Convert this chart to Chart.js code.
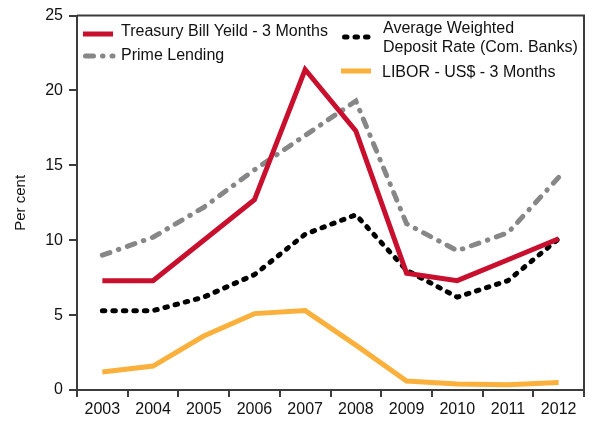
<!DOCTYPE html>
<html>
<head>
<meta charset="utf-8">
<script src="https://cdn.jsdelivr.net/npm/chart.js@4"></script>
<style>
  html, body { margin: 0; padding: 0; background: #fff; }
  #wrap { width: 594px; height: 421px; }
</style>
</head>
<body>
<div id="wrap"><canvas id="grafico" width="594" height="421"></canvas></div>
<script>
const anos = ['2003', '2004', '2005', '2006', '2007', '2008', '2009', '2010', '2011', '2012'];
const tesouro = [7.3, 7.3, 10.0, 12.7, 21.4, 17.3, 7.8, 7.3, 8.7, 10.1];
const primeLending = [9.0, 10.2, 12.2, 14.7, 17.0, 19.3, 11.1, 9.3, 10.5, 14.2];
const deposito = [5.3, 5.3, 6.2, 7.7, 10.4, 11.7, 8.0, 6.2, 7.3, 10.1];
const libor = [1.2, 1.6, 3.6, 5.1, 5.3, 3.0, 0.6, 0.4, 0.35, 0.5];
const yTicks = [0, 5, 10, 15, 20, 25];

const corEixo = '#3c3c3c';
const fonte = 'Arial, "Liberation Sans", sans-serif';

// legenda desenhada a mao dentro da area do grafico
const legendaPlugin = {
  id: 'legenda',
  afterDraw(chart) {
    const c = chart.ctx;
    const ds = chart.data.datasets;
    const itens = [
      { d: ds[0], x: 83, y: 34, linhas: ['Treasury Bill Yeild - 3 Months'], ty: 32 },
      { d: ds[1], x: 83, y: 56, linhas: ['Prime Lending'], ty: 56 },
      { d: ds[2], x: 342, y: 37, linhas: ['Average Weighted', 'Deposit Rate (Com. Banks)'], ty: 29 },
      { d: ds[3], x: 341, y: 71, linhas: ['LIBOR - US$ - 3 Months'], ty: 73 }
    ];
    c.save();
    itens.forEach(it => {
      const redondo = it.d.borderCapStyle === 'round';
      c.beginPath();
      c.strokeStyle = it.d.borderColor;
      c.lineWidth = it.d.borderWidth;
      c.lineCap = it.d.borderCapStyle || 'butt';
      c.setLineDash(it.d.borderDash || []);
      c.moveTo(it.x + (redondo ? 2.5 : 0), it.y);
      c.lineTo(it.x + 30, it.y);
      c.stroke();
      c.setLineDash([]);
      c.fillStyle = '#111';
      c.font = '16px ' + fonte;
      c.textBaseline = 'middle';
      it.linhas.forEach((t, i) => c.fillText(t, it.x + 38 + (it.x > 300 ? 3 : 0), it.ty + i * 19));
    });
    // moldura superior e direita
    const a = chart.chartArea;
    c.strokeStyle = corEixo;
    c.lineWidth = 2;
    c.beginPath();
    c.moveTo(a.left, a.top);
    c.lineTo(a.right, a.top);
    c.lineTo(a.right, a.bottom);
    c.stroke();
    c.restore();
  }
};

const ctx = document.getElementById('grafico').getContext('2d');

const grafico = new Chart(ctx, {
  type: 'line',
  data: {
    labels: anos,
    datasets: [
      {
        label: 'Treasury Bill Yeild - 3 Months',
        data: tesouro,
        borderColor: '#c8102e',
        borderWidth: 5,
        tension: 0
      },
      {
        label: 'Prime Lending',
        data: primeLending,
        borderColor: '#878787',
        borderWidth: 5,
        borderDash: [8, 9, 0.5, 9],
        borderCapStyle: 'round',
        tension: 0
      },
      {
        label: 'Average Weighted Deposit Rate (Com. Banks)',
        data: deposito,
        borderColor: '#000000',
        borderWidth: 5,
        borderDash: [2.5, 8],
        borderCapStyle: 'round',
        tension: 0
      },
      {
        label: 'LIBOR - US$ - 3 Months',
        data: libor,
        borderColor: '#fbb03b',
        borderWidth: 5,
        tension: 0
      }
    ]
  },
  options: {
    responsive: false,
    animation: false,
    layout: { padding: { top: 15, right: 10, left: 0, bottom: 0 } },
    elements: { point: { radius: 0 } },
    plugins: {
      legend: { display: false },
      tooltip: { enabled: false }
    },
    scales: {
      x: {
        offset: true,
        grid: {
          offset: true,
          drawOnChartArea: false,
          color: corEixo,
          lineWidth: 2,
          tickLength: 7
        },
        border: { color: corEixo, width: 2 },
        ticks: { color: '#111', font: { size: 16, family: fonte }, padding: 3, maxRotation: 0 },
        afterFit: s => { s.height = 31; }
      },
      y: {
        min: 0,
        max: 25,
        afterBuildTicks: s => { s.ticks = yTicks.map(v => ({ value: v })); },
        grid: {
          drawOnChartArea: false,
          color: corEixo,
          lineWidth: 2,
          tickLength: 8
        },
        border: { color: corEixo, width: 2 },
        ticks: { color: '#111', font: { size: 16, family: fonte }, padding: 6 },
        title: {
          display: true,
          text: 'Per cent',
          color: '#111',
          font: { size: 15, family: fonte },
          padding: { top: 12, bottom: 0 }
        },
        afterFit: s => { s.width = 77; }
      }
    }
  },
  plugins: [legendaPlugin]
});
</script>
</body>
</html>
